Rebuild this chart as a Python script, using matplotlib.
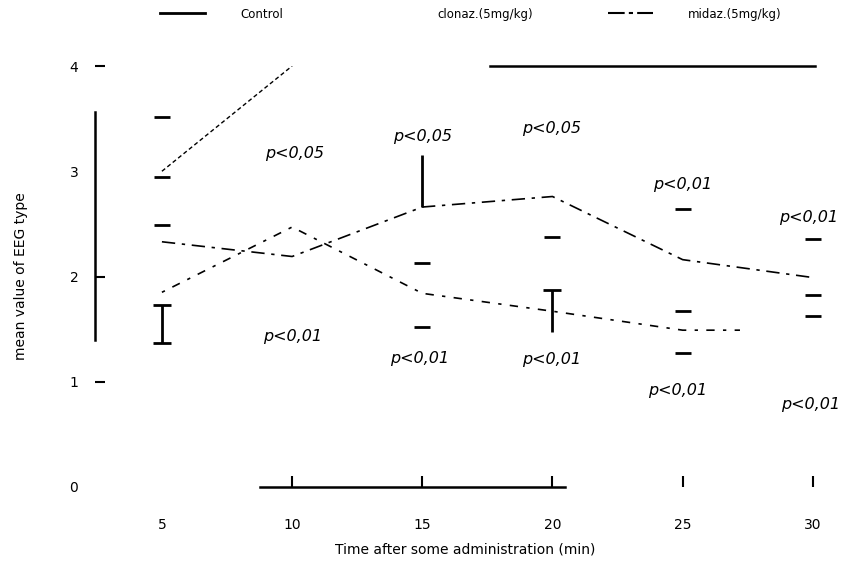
import matplotlib
matplotlib.use("Agg")
import matplotlib.pyplot as plt
from matplotlib.lines import Line2D

# data
times = [5, 10, 15, 20, 25, 30]
control_t = [5, 10]
control = [3.0, 4.0]
drug_b_t = [5, 10, 15, 20, 25, 27.2]
drug_b = [1.85, 2.47, 1.84, 1.67, 1.49, 1.49]
drug_a = [2.33, 2.19, 2.66, 2.76, 2.16, 1.99]

# loose error-bar caps
cap_t = [5, 5, 5, 15, 15, 20, 25, 25, 25, 30, 30, 30]
cap_y = [3.52, 2.95, 2.49, 2.13, 1.52, 2.38, 2.64, 1.67, 1.27, 2.36, 1.82, 1.62]
# vertical error bars
bar_t = [5, 15, 20]
bar_lo = [1.37, 2.66, 1.47]
bar_hi = [1.73, 3.15, 1.87]
bar_caps_t = [5, 5, 20]
bar_caps_y = [1.37, 1.73, 1.87]

# significance labels
p_up_t = [10.1, 15.0, 19.95, 25.0, 30.1]
p_up_y = [3.17, 3.33, 3.41, 2.87, 2.56]
p_up = ["p<0,05", "p<0,05", "p<0,05", "p<0,01", "p<0,01"]
p_lo_t = [10.0, 14.9, 19.98, 24.8, 30.2]
p_lo_y = [1.43, 1.22, 1.21, 0.92, 0.78]
p_lo = ["p<0,01", "p<0,01", "p<0,01", "p<0,01", "p<0,01"]

fig = plt.figure(figsize=(8.43, 5.62), dpi=100)
ax = fig.add_axes([95 / 843, 75 / 562, 740 / 843, 421 / 562])
ax.set_xlim(2.43, 30.85)
ax.set_ylim(0, 4.0)

ax.plot(control_t, control, color="black", lw=1.0, dashes=(3, 2))
ax.plot(times, drug_a, color="black", lw=1.2, dashes=(8, 4, 2, 4))
ax.plot(drug_b_t, drug_b, color="black", lw=1.2, dashes=(2, 5, 5, 5))

ax.plot(cap_t, cap_y, ls="none", marker="_", ms=11, mew=2, color="black")
ax.vlines(bar_t, bar_lo, bar_hi, color="black", lw=2)
ax.plot(bar_caps_t, bar_caps_y, ls="none", marker="_", ms=13, mew=2, color="black")

for t, y, s in zip(p_up_t + p_lo_t, p_up_y + p_lo_y, p_up + p_lo):
    # the last column sits at the right edge, keep it inside the figure
    if t > 30:
        ax.text(t + 0.85, y, s, ha="right", va="center", fontsize=11.5, style="italic")
    else:
        ax.text(t, y, s, ha="center", va="center", fontsize=11.5, style="italic")

# partial frame as in the original
ax.spines["left"].set_bounds(1.40, 3.56)
ax.spines["bottom"].set_bounds(8.76, 20.48)
ax.spines["top"].set_bounds(17.6, 30.08)
ax.spines["right"].set_visible(False)
for s in ["left", "bottom", "top"]:
    ax.spines[s].set_linewidth(1.8)

ax.set_xticks(times)
ax.set_yticks([0, 1, 2, 3, 4])
ax.tick_params(axis="x", direction="in", length=8, width=1.5, pad=22, labelsize=10)
ax.tick_params(axis="y", direction="in", length=7, width=1.5, pad=12, labelsize=10)
ax.xaxis.get_major_ticks()[0].tick1line.set_visible(False)
yt = ax.yaxis.get_major_ticks()
yt[0].tick1line.set_visible(False)
yt[3].tick1line.set_visible(False)

ax.set_xlabel("Time after some administration (min)", fontsize=10, labelpad=8)
ax.set_ylabel("mean value of EEG type", fontsize=10, labelpad=30)

handles = [
    Line2D([], [], color="black", lw=2),
    Line2D([], [], color="none"),
    Line2D([], [], color="black", lw=1.5, dashes=(8, 2, 2, 2)),
]
labels = ["Control", "clonaz.(5mg/kg)", "midaz.(5mg/kg)"]
fig.legend(handles, labels, loc="center left", bbox_to_anchor=(160 / 843, 0.975),
           ncols=3, frameon=False, fontsize=8.5, handlelength=3.8, handletextpad=3.0,
           columnspacing=6.3, borderpad=0, borderaxespad=0)

fig.savefig("out.png", dpi=100)
